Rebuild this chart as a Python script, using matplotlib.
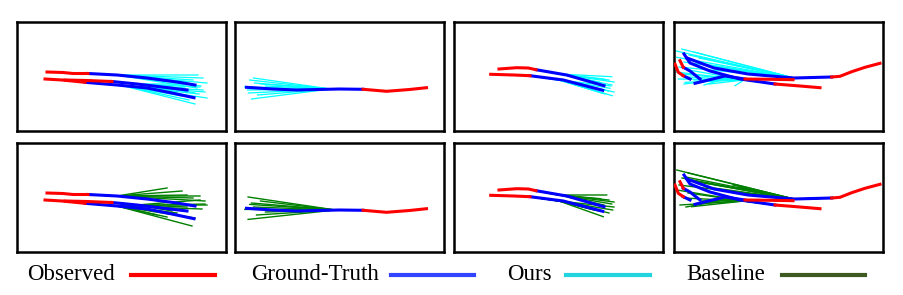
import matplotlib.pyplot as plt
from matplotlib.lines import Line2D

plt.rcParams['font.family'] = ['Liberation Serif', 'DejaVu Serif']

# scene coordinates (x to the right, y downwards), one scene per column
observed = [
    [[(30, 50), (46, 50.5), (56, 51.5), (71, 51.5)],
     [(28, 57), (45, 58), (60, 59.5), (68, 60.3)],
     [(48, 58), (70, 58.5), (95, 59.5)]],
    [[(191, 65.7), (174, 67.5), (151, 69.3), (127.6, 67.3)]],
    [[(45, 47), (62.7, 45.7), (74.3, 46), (82, 47.7)],
     [(36.7, 52.3), (60, 53), (76, 53.7)]],
    [[(206, 41.3), (191, 45.3), (177.7, 49.7), (166, 54.3), (157.7, 55)],
     [(146, 65.7), (126, 64), (101, 62)],
     [(119, 57.7), (96, 57.3), (71, 57)],
     [(1, 42), (4.3, 50.3), (9.3, 53.7)],
     [(6, 38.7), (9.3, 45.3)]],
]

ground_truth = [
    [[(71, 51.5), (100, 53), (130, 56), (160, 60), (178, 63)],
     [(68, 60.3), (100, 63), (130, 66), (155, 71), (177, 75.7)],
     [(95, 59.5), (120, 62), (145, 65), (170, 68)]],
    [[(127.6, 67.3), (104, 67), (61, 68), (37, 67), (11, 65.3)]],
    [[(82, 47.7), (112.7, 53), (150, 63.7)],
     [(76, 53.7), (109.3, 58), (148.7, 68.3)]],
    [[(157.7, 55), (120, 56), (74, 52), (40, 46), (13, 36)],
     [(101, 62), (66, 57), (36, 49), (16, 41), (10, 32)],
     [(71, 57), (51, 54), (21, 61.3)],
     [(9.3, 53.7), (16, 57)],
     [(9.3, 45.3), (16, 49), (26, 57)]],
]

# predicted samples: (last observed point, branch point, end points)
ours = [
    [((71, 51.5), (100, 53), [(181, 53), (186, 56), (176, 58), (190, 61), (184, 64), (170, 60), (180, 66)]),
     ((68, 60.3), (105, 63.5), [(186, 68), (190, 76), (178, 82), (172, 78), (182, 72), (165, 74), (188, 70)]),
     ((95, 59.5), (120, 62), [(175, 62), (183, 65), (160, 70), (178, 71), (168, 66)])],
    [((127.6, 67.3), (95, 67), [(14, 58), (9, 65), (16, 77), (13, 71), (19, 61), (25, 62),
                                (22, 73), (12, 68), (30, 64), (18, 56)])],
    [((82, 47.7), (105, 52), [(157.7, 54.7), (155, 58), (160, 60), (150, 57), (158, 63), (145, 60)]),
     ((76, 53.7), (105, 58), [(156, 66.3), (158.3, 73.7), (151, 72), (155, 69), (160, 70), (148, 71), (157, 64)])],
    [((157.7, 55), (120, 56), [(1, 28.7), (7.7, 27), (2.7, 35.3), (15, 33), (25, 36), (10, 40),
                               (30, 42), (5, 45), (20, 30), (40, 44), (60, 48)]),
     ((101, 62), (70, 58), [(4.3, 57), (11, 60.3), (8, 52), (20, 58), (15, 48), (35, 62), (61, 63.7), (2, 50)]),
     ((71, 57), (50, 57), [(21, 61), (10, 62), (30, 63), (15, 55)])],
]

baseline = [
    [((71, 51.5), (100, 53), [(150, 45), (165, 48), (183, 53), (176, 55), (188, 58), (170, 52)]),
     ((68, 60.3), (100, 63), [(188, 61), (178, 75), (175, 83), (150, 74), (140, 72), (185, 66), (160, 70)]),
     ((95, 59.5), (120, 62), [(183, 57), (170, 64), (155, 68), (190, 62)])],
    [((127.6, 67.3), (100, 67), [(12.6, 54), (14.3, 61.4), (9.3, 66.4), (12.6, 76.4), (21, 72),
                                 (25, 58), (18, 64), (30, 69), (16, 60)])],
    [((82, 47.7), (105, 52), [(152.7, 52), (157.7, 61), (146.7, 55.7), (155, 57), (160, 59), (150, 62)]),
     ((76, 53.7), (105, 58), [(158.7, 67), (149.3, 73.7), (155, 70), (145, 68), (160, 64), (140, 67)])],
    [((157.7, 55), (120, 56), [(2.7, 27), (14.3, 30), (8, 35), (20, 38), (30, 40), (5, 42),
                               (40, 45), (12, 34), (59, 42), (65, 44), (70, 46)]),
     ((101, 62), (70, 58), [(17.7, 63.7), (6, 62), (10, 55), (25, 60), (14, 50), (3, 47)]),
     ((71, 57), (50, 57), [(21, 61), (12, 64), (28, 58)])],
]

legend_labels = ['Observed', 'Ground-Truth', 'Ours', 'Baseline']
legend_colors = ['#ff0000', '#3344ff', '#22d3e0', '#3d5a22']


def draw_scene(ax, k, samples, color, lw):
    for anchor, branch, ends in samples[k]:
        for e in ends:
            ax.plot([anchor[0], branch[0], e[0]], [anchor[1], branch[1], e[1]],
                    color=color, lw=lw, zorder=1)
    for tr in ground_truth[k]:
        ax.plot([p[0] for p in tr], [p[1] for p in tr], color='#0000ff', lw=2.2, zorder=2)
    for tr in observed[k]:
        ax.plot([p[0] for p in tr], [p[1] for p in tr], color='#ff0000', lw=2.2, zorder=3)
    ax.set_xlim(0, 209)
    ax.set_ylim(109, 0)
    ax.set_xticks([])
    ax.set_yticks([])
    for s in ax.spines.values():
        s.set_linewidth(1.8)


W, H = 904, 295
fig = plt.figure(figsize=(W / 100, H / 100), dpi=100)

lefts = [17, 235.5, 454, 674]
tops = [22, 143]
for row, (samples, color, lw) in enumerate([(ours, '#00ffff', 0.9), (baseline, '#008000', 1.0)]):
    for k in range(4):
        ax = fig.add_axes([lefts[k] / W, 1 - (tops[row] + 109) / H, 209 / W, 109 / H])
        draw_scene(ax, k, samples, color, lw)

# legend row
text_x = [27, 251, 507, 686]
line_x = [(131, 215), (391, 474), (566, 650), (782, 865)]
for lab, col, tx, (x0, x1) in zip(legend_labels, legend_colors, text_x, line_x):
    fig.text(tx / W, 1 - 274 / H, lab, fontsize=16.5, ha='left', va='center')
    fig.add_artist(Line2D([x0 / W, x1 / W], [1 - 275 / H, 1 - 275 / H],
                          transform=fig.transFigure, color=col, lw=3))

fig.savefig('out.png', dpi=100)
